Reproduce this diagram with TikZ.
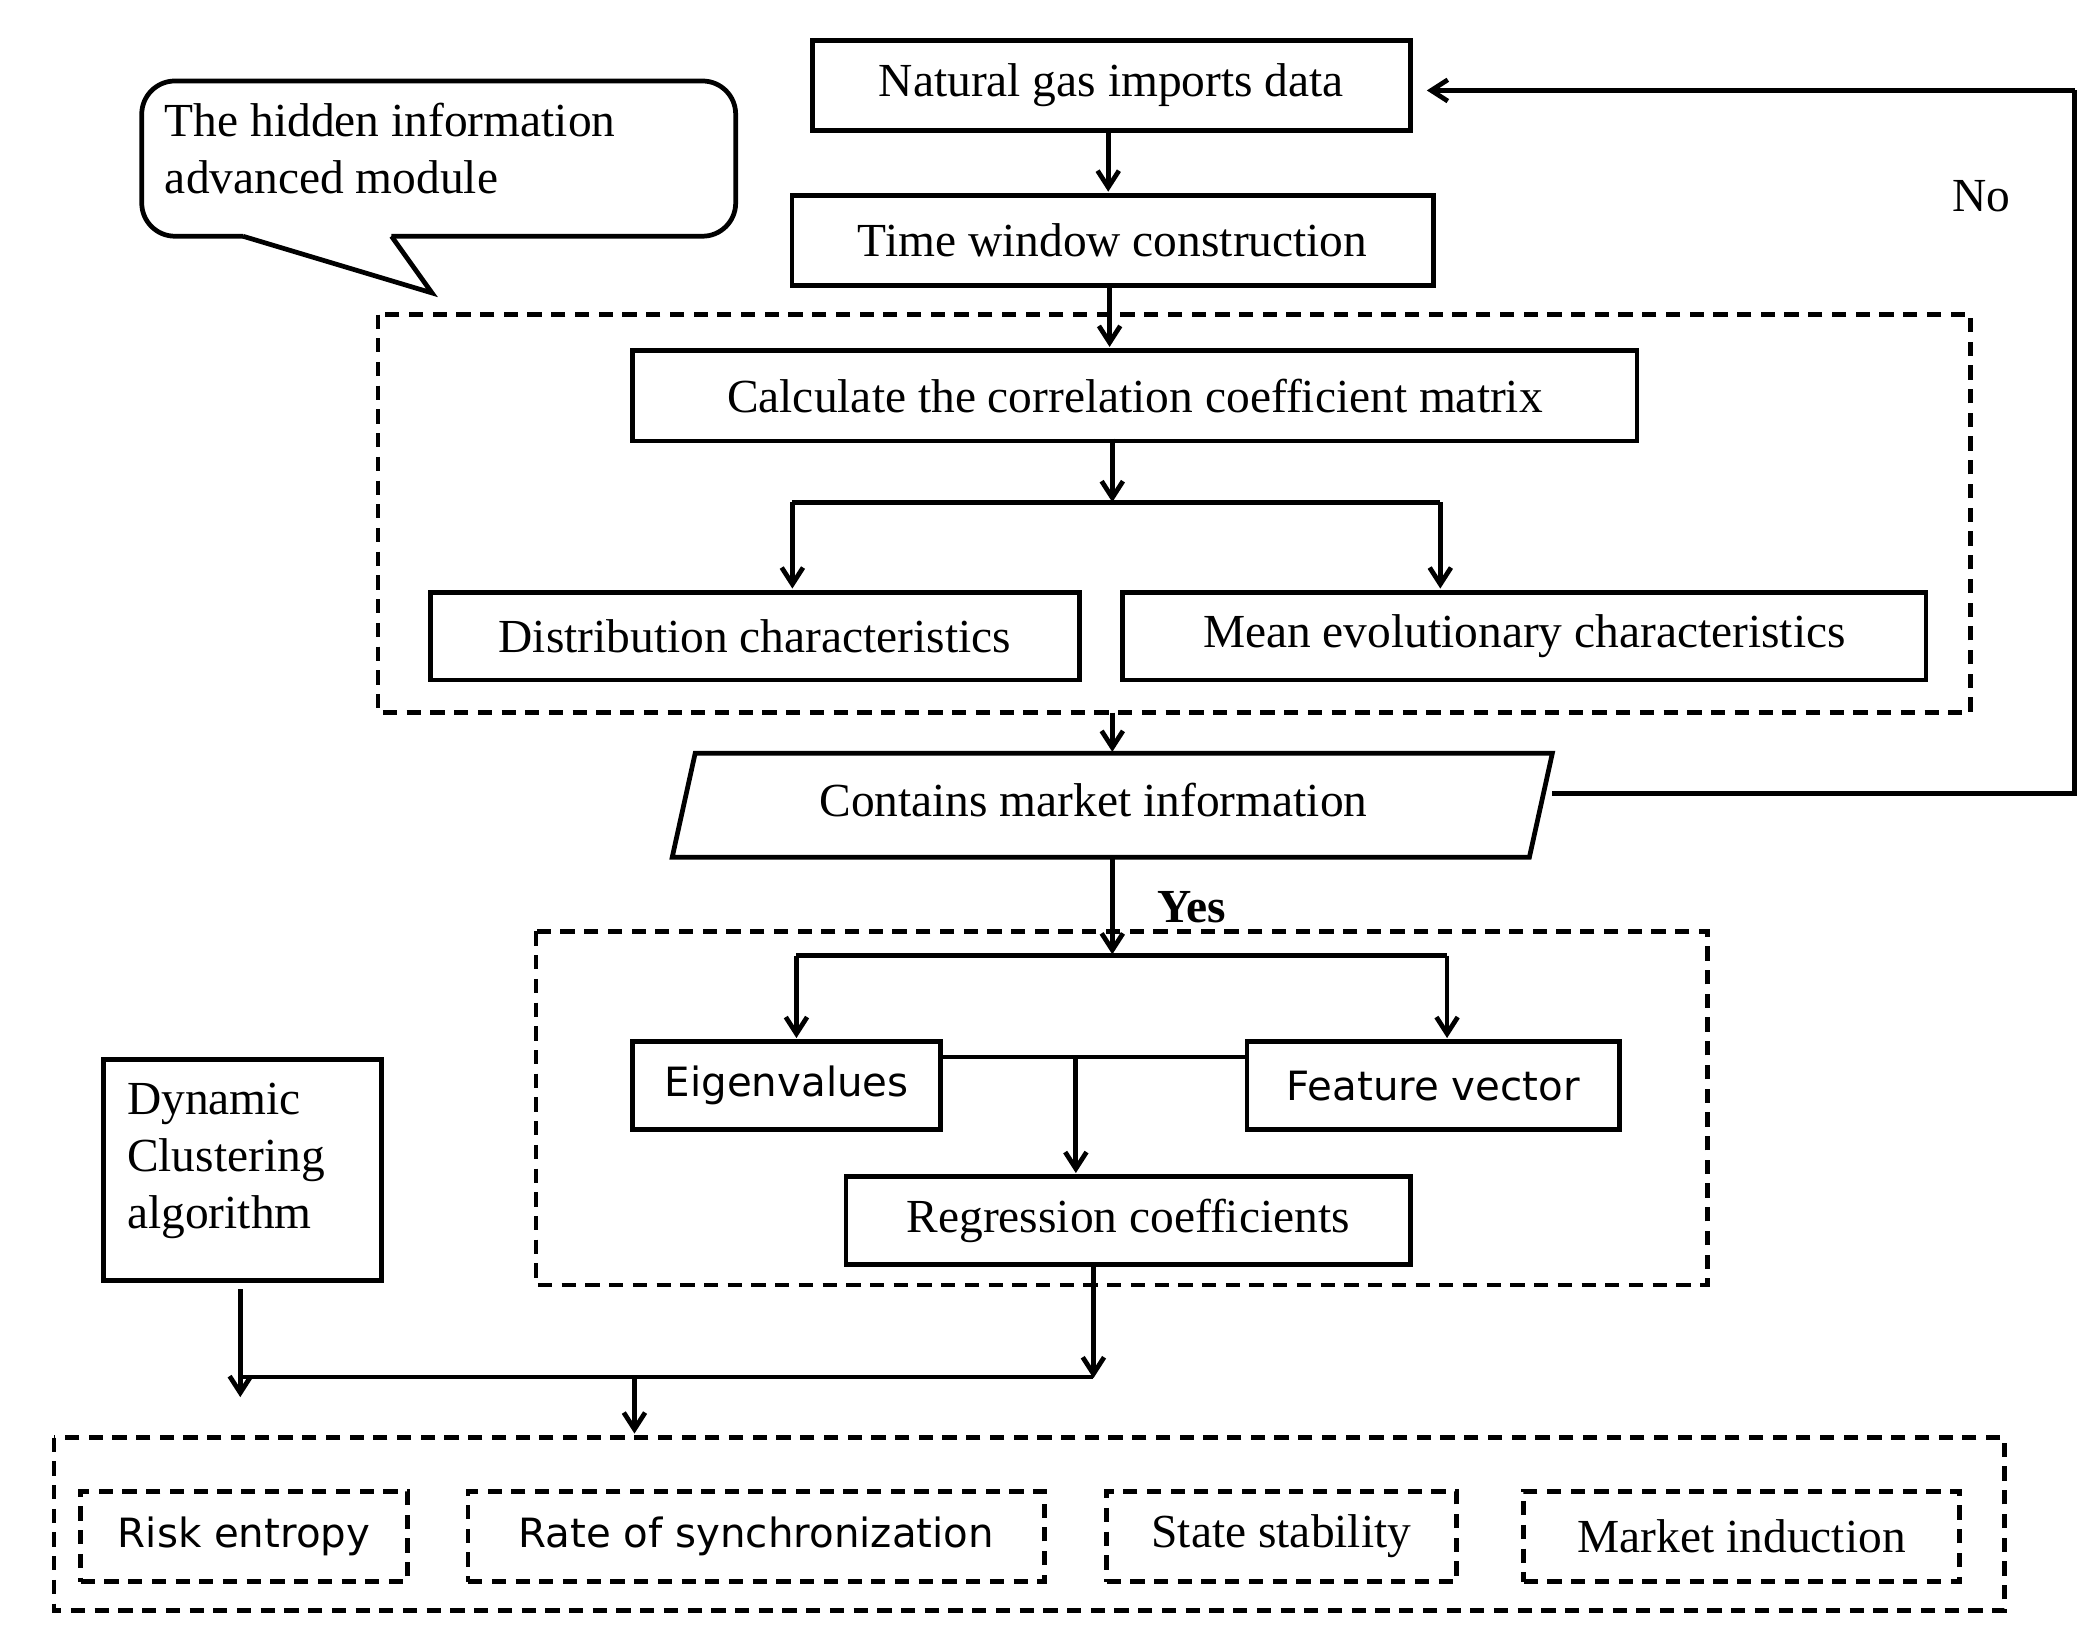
\documentclass[tikz,border=0pt]{standalone}
\usepackage{fontspec}
\setmainfont{Liberation Serif}
\newfontfamily\sansf{DejaVu Sans}
\usetikzlibrary{arrows.meta}
\begin{document}
\begin{tikzpicture}[x=0.02cm,y=-0.02cm,
  every node/.style={font=\fontsize{20}{24}\selectfont},
  box/.style={draw,line width=2pt,inner sep=0pt,anchor=north west},
  dbox/.style={draw,dashed,line width=2pt,dash pattern=on 6pt off 4pt},
  ln/.style={line width=2pt},
  ar/.style={line width=2pt,-{Straight Barb[length=7pt,width=9pt]}}]
\useasboundingbox (0,0) rectangle (1552,1213);
\newcommand{\bx}[6]{\node[box,minimum width=#4*0.02cm,minimum height=#5*0.02cm] (#1) at (#2,#3) {};\node at (#1.center) {#6};}
\bx{ng}{600}{28}{443}{67}{Natural gas imports data}
\bx{tw}{585}{143}{475}{67}{Time window construction}
\draw[line width=2pt,rounded corners=14pt] (180,175) -- (105,175) -- (105,60) -- (545,60) -- (545,175) -- (290,175);
\draw[line width=2pt] (180,175) -- (320,217) -- (290,175);
\node[align=left,anchor=north west] (call) at (116,70) {The hidden information\\advanced module};
\draw[dbox] (280,233) rectangle (1460,528);
\bx{cc}{467}{258}{744}{67}{Calculate the correlation coefficient matrix}
\bx{dc}{317}{437}{481}{65}{Distribution characteristics}
\bx{me}{830}{437}{595}{65}{Mean evolutionary characteristics}
\draw[line width=2pt] (515,558) -- (1150,558) -- (1133,635) -- (498,635) -- cycle;
\node (cmi) at (810,593) {Contains market information};
\node at (1468,145) (no) {No};
\node[font=\fontsize{20}{24}\selectfont\bfseries] (yes) at (883,672) {Yes};
\draw[dbox] (397,690) rectangle (1265,952);
\bx{ev}{467}{770}{228}{65}{\sansf\fontsize{17}{20}\selectfont Eigenvalues}
\bx{fv}{922}{770}{276}{65}{\sansf\fontsize{17}{20}\selectfont Feature vector}
\bx{rc}{625}{870}{418}{65}{Regression coefficients}
\node[box,minimum width=206*0.02cm,minimum height=164*0.02cm] (dy) at (75,783) {};
\node[align=left,anchor=north west] at (88,796) {Dynamic\\Clustering\\algorithm};
\draw[dbox] (40,1065) rectangle (1485,1193);
\begin{scope}[every node/.style={font=\sansf\fontsize{17}{20}\selectfont}]
\node[dbox,minimum width=242*0.02cm,minimum height=67*0.02cm,anchor=north west] (re) at (58,1103) {};
\node at (re.center) {Risk entropy};
\node[dbox,minimum width=427*0.02cm,minimum height=67*0.02cm,anchor=north west] (rs) at (345,1103) {};
\node at (rs.center) {Rate of synchronization};
\end{scope}
\node[dbox,minimum width=259*0.02cm,minimum height=67*0.02cm,anchor=north west] (ss) at (818,1103) {};
\node at (ss.center) {State stability};
\node[dbox,minimum width=323*0.02cm,minimum height=67*0.02cm,anchor=north west] (mi) at (1127,1103) {};
\node at (mi.center) {Market induction};
% connectors
\draw[ar] (821,95) -- (821,142);
\draw[ar] (822,210) -- (822,257);
\draw[ar] (824,325) -- (824,372);
\coordinate (s1l) at (587,372); \coordinate (s1r) at (1067,372);
\draw[ln] (s1l) -- (s1r);
\draw[ar] (s1l) -- (587,436);
\draw[ar] (s1r) -- (1067,436);
\draw[ar] (824,528) -- (824,557);
\draw[ar] (824,635) -- (824,707);
\coordinate (s2l) at (590,708); \coordinate (s2r) at (1072,708);
\draw[ln] (s2l) -- (s2r);
\draw[ar] (s2l) -- (590,769);
\draw[ar] (s2r) -- (1072,769);
\draw[ln] (695,783) -- (922,783);
\draw[ar] (797,783) -- (797,869);
\draw[ln] (1150,588) -- (1537,588) -- (1537,67);
\draw[ar] (1537,67) -- (1057,67);
\draw[ar] (178,955) -- (178,1035);
\draw[ln] (178,1020) -- (810,1020);
\draw[ar] (810,935) -- (810,1021);
\draw[ar] (470,1020) -- (470,1062);
\end{tikzpicture}
\end{document}
